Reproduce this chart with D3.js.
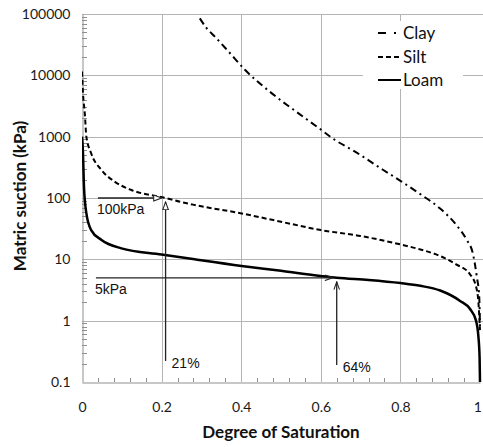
<!DOCTYPE html>
<html>
<head>
<meta charset="utf-8">
<script src="https://cdn.jsdelivr.net/npm/d3@7"></script>
<style>
  body { margin: 0; background: #fff; }
  svg { display: block; }
</style>
</head>
<body>
<svg id="chart" width="483" height="447"></svg>
<script>
// Soil-water retention curves: degree of saturation vs matric suction (kPa)
const claySaturation = [0.296, 0.313, 0.334, 0.372, 0.410, 0.472, 0.544, 0.590, 0.636, 0.686, 0.757, 0.803, 0.853, 0.899, 0.941, 0.966, 0.982, 0.992, 0.998, 1.0];
const claySuction    = [85000, 59000, 42700, 22900, 12200, 5400, 2400, 1460, 880, 570, 286, 185, 112, 68, 36, 21, 12.5, 5.2, 2.5, 0.8];

const siltSaturation = [0, 0.0025, 0.007, 0.011, 0.023, 0.049, 0.082, 0.124, 0.21, 0.246, 0.283, 0.401, 0.5, 0.6, 0.7, 0.8, 0.85, 0.9, 0.94, 0.975, 0.99, 0.996, 1.0];
const siltSuction    = [11500, 5100, 2400, 1000, 536, 286, 185, 135, 100, 87, 77, 56, 41, 30, 24, 17.5, 14.5, 11.3, 8.3, 5.7, 3.6, 2.0, 0.7];

const loamSaturation = [0, 0.0025, 0.005, 0.011, 0.023, 0.049, 0.099, 0.2, 0.283, 0.401, 0.5, 0.6, 0.64, 0.72, 0.8, 0.85, 0.9, 0.95, 0.975, 0.99, 0.996, 0.999, 1.0];
const loamSuction    = [1000, 537, 151, 56, 30, 20.7, 15.1, 12, 10, 7.8, 6.5, 5.35, 5, 4.6, 4.1, 3.7, 3.1, 2.1, 1.55, 1.0, 0.55, 0.25, 0.1];

const seriesNames = ["Clay", "Silt", "Loam"];

const xTickValues = [0, 0.2, 0.4, 0.6, 0.8, 1];
const xTickLabels = ["0", "0.2", "0.4", "0.6", "0.8", "1"];
const yTickValues = [0.1, 1, 10, 100, 1000, 10000, 100000];
const yTickLabels = ["0.1", "1", "10", "100", "1000", "10000", "100000"];

// Reading guides: suction level -> saturation where it meets the curve
const guideSuction = [100, 5];
const guideSuctionLabels = ["100kPa", "5kPa"];
const guideSaturation = [0.21, 0.64];
const guideSaturationLabels = ["21%", "64%"];

const svg = d3.select("#chart");
const plot = { left: 82, right: 480, top: 14, bottom: 382 };

const x = d3.scaleLinear().domain([0, 1]).range([plot.left, plot.right]);
const y = d3.scaleLog().domain([0.1, 100000]).range([plot.bottom, plot.top]);

const gridColor = "#b4b4b4";
const axisColor = "#8f8f8f";

// Clip for the curves
svg.append("defs").append("clipPath").attr("id", "plotClip")
  .append("rect").attr("x", plot.left).attr("y", plot.top - 1)
  .attr("width", plot.right - plot.left + 2).attr("height", plot.bottom - plot.top + 1);

// Horizontal gridlines at each decade
svg.append("g").selectAll("line").data(yTickValues.slice(1)).join("line")
  .attr("x1", plot.left).attr("x2", 483)
  .attr("y1", d => Math.round(y(d)) + 0.5).attr("y2", d => Math.round(y(d)) + 0.5)
  .attr("stroke", gridColor).attr("stroke-width", 1);

// Vertical gridlines
svg.append("g").selectAll("line").data(xTickValues.slice(1, -1)).join("line")
  .attr("x1", d => Math.round(x(d)) + 0.5).attr("x2", d => Math.round(x(d)) + 0.5)
  .attr("y1", plot.top).attr("y2", plot.bottom)
  .attr("stroke", gridColor).attr("stroke-width", 1);

// Y axis with labels and inner minor ticks
const yAxis = d3.axisLeft(y).tickValues(yTickValues)
  .tickFormat((d, i) => yTickLabels[i]).tickSize(0).tickPadding(12);
const gy = svg.append("g").attr("transform", `translate(${plot.left + 0.5},0)`).call(yAxis);
gy.select(".domain").attr("stroke", axisColor);
gy.selectAll("text").attr("font-family", "Lato, sans-serif").attr("font-size", 14).attr("fill", "#1a1a1a");

const minorY = [];
yTickValues.slice(0, -1).forEach(d => { for (let k = 2; k <= 9; k++) minorY.push(d * k); });
svg.append("g").selectAll("line").data(minorY).join("line")
  .attr("x1", plot.left).attr("x2", plot.left + 5)
  .attr("y1", d => Math.round(y(d)) + 0.5).attr("y2", d => Math.round(y(d)) + 0.5)
  .attr("stroke", axisColor).attr("stroke-width", 1);

// X axis with labels and inner minor ticks
const xAxis = d3.axisBottom(x).tickValues(xTickValues)
  .tickFormat((d, i) => xTickLabels[i]).tickSize(0).tickPadding(20);
const gx = svg.append("g").attr("transform", `translate(0,${plot.bottom + 0.5})`).call(xAxis);
gx.select(".domain").attr("stroke", axisColor);
gx.selectAll("text").attr("font-family", "Lato, sans-serif").attr("font-size", 14).attr("fill", "#1a1a1a");
// keep the last label inside the canvas
gx.selectAll(".tick").filter(d => d === 1).select("text").attr("text-anchor", "end").attr("dx", "0.1em");

const minorX = d3.range(1, 25).map(i => i * 0.04).filter(v => Math.abs(v * 5 - Math.round(v * 5)) > 1e-6);
svg.append("g").selectAll("line").data(minorX).join("line")
  .attr("x1", d => Math.round(x(d)) + 0.5).attr("x2", d => Math.round(x(d)) + 0.5)
  .attr("y1", plot.bottom).attr("y2", plot.bottom - 4)
  .attr("stroke", axisColor).attr("stroke-width", 1);

// Axis titles
svg.append("text").attr("x", (plot.left + plot.right) / 2).attr("y", 438)
  .attr("text-anchor", "middle").attr("font-family", "Lato, sans-serif")
  .attr("font-weight", "bold").attr("font-size", 17).attr("fill", "#111")
  .text("Degree of Saturation");
svg.append("text").attr("transform", "translate(26,196) rotate(-90)")
  .attr("text-anchor", "middle").attr("font-family", "Lato, sans-serif")
  .attr("font-weight", "bold").attr("font-size", 17).attr("fill", "#111")
  .text("Matric suction (kPa)");

// Curves
const series = [
  { name: seriesNames[0], s: claySaturation, h: claySuction, dash: "7,4,2,4", width: 2 },
  { name: seriesNames[1], s: siltSaturation, h: siltSuction, dash: "5,3", width: 2 },
  { name: seriesNames[2], s: loamSaturation, h: loamSuction, dash: null, width: 2.5 }
];

const line = d3.line().x(d => x(d[0])).y(d => y(d[1])).curve(d3.curveMonotoneX);
const curves = svg.append("g").attr("clip-path", "url(#plotClip)");
series.forEach(sr => {
  curves.append("path")
    .datum(sr.s.map((v, i) => [v, sr.h[i]]))
    .attr("d", line)
    .attr("fill", "none").attr("stroke", "#000")
    .attr("stroke-width", sr.width)
    .attr("stroke-dasharray", sr.dash);
});

// Arrow markers
const defs = svg.select("defs");
defs.append("marker").attr("id", "triHead").attr("markerUnits", "userSpaceOnUse")
  .attr("viewBox", "0 0 10 8").attr("refX", 9.5).attr("refY", 4)
  .attr("markerWidth", 9).attr("markerHeight", 7).attr("orient", "auto")
  .append("path").attr("d", "M0.5,0.7 L9.5,4 L0.5,7.3 Z")
  .attr("fill", "#fff").attr("stroke", "#222").attr("stroke-width", 1.2);
defs.append("marker").attr("id", "openHead").attr("markerUnits", "userSpaceOnUse")
  .attr("viewBox", "0 0 10 8").attr("refX", 9.5).attr("refY", 4)
  .attr("markerWidth", 9).attr("markerHeight", 7).attr("orient", "auto")
  .append("path").attr("d", "M0.5,0.8 L9.5,4 L0.5,7.2")
  .attr("fill", "none").attr("stroke", "#222").attr("stroke-width", 1.2);

const guideStartS = [0.04, 0.035];
const guideBottomH = [0.22, 0.19];
const heads = ["triHead", "openHead"];
const labelFont = "'Liberation Sans', Arial, sans-serif";
const ga = svg.append("g");
guideSuction.forEach((h, i) => {
  const s = guideSaturation[i];
  // horizontal arrow at the suction level
  ga.append("line")
    .attr("x1", x(guideStartS[i])).attr("x2", x(s) - 4)
    .attr("y1", y(h)).attr("y2", y(h))
    .attr("stroke", "#222").attr("stroke-width", 1.3)
    .attr("marker-end", `url(#${heads[i]})`);
  // vertical arrow at the saturation level
  ga.append("line")
    .attr("x1", x(s)).attr("x2", x(s))
    .attr("y1", y(guideBottomH[i])).attr("y2", y(h) + 4)
    .attr("stroke", "#222").attr("stroke-width", 1.3)
    .attr("marker-end", `url(#${heads[i]})`);
  ga.append("text")
    .attr("x", x(guideStartS[i]) - 1).attr("y", y(h) + 16)
    .attr("font-family", labelFont).attr("font-size", 14).attr("fill", "#111")
    .text(guideSuctionLabels[i]);
  ga.append("text")
    .attr("x", x(s) + 6).attr("y", y(guideBottomH[i]) + 7)
    .attr("font-family", labelFont).attr("font-size", 14).attr("fill", "#111")
    .text(guideSaturationLabels[i]);
});

// Legend
const legend = svg.append("g");
legend.append("rect").attr("x", 363).attr("y", 21).attr("width", 100).attr("height", 68).attr("fill", "#fff");
const legendY = [33, 57, 80];
series.forEach((sr, i) => {
  const ly = legendY[i];
  if (i === 0) {
    legend.append("line").attr("x1", 378).attr("x2", 386).attr("y1", ly).attr("y2", ly)
      .attr("stroke", "#000").attr("stroke-width", 2);
    legend.append("line").attr("x1", 394).attr("x2", 396).attr("y1", ly).attr("y2", ly)
      .attr("stroke", "#000").attr("stroke-width", 2);
  } else {
    legend.append("line").attr("x1", 378).attr("x2", 401).attr("y1", ly).attr("y2", ly)
      .attr("stroke", "#000").attr("stroke-width", 2)
      .attr("stroke-dasharray", i === 1 ? "5,3" : null);
  }
  legend.append("text").attr("x", 403).attr("y", ly).attr("dy", "0.35em")
    .attr("font-family", "Lato, sans-serif").attr("font-size", 17).attr("fill", "#111")
    .text(sr.name);
});
</script>
</body>
</html>
